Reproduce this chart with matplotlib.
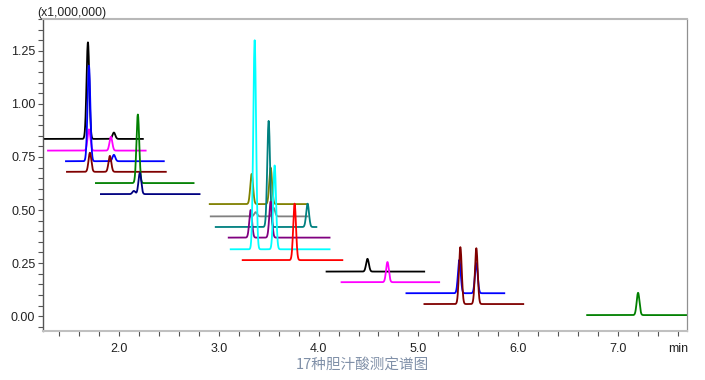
import matplotlib
matplotlib.use("Agg")
import matplotlib.pyplot as plt
from matplotlib.ticker import MultipleLocator
import numpy as np

# one entry per chromatogram trace (17 bile acids)
trace_colors = ["#000000", "#ff00ff", "#0000ff", "#800000", "#008000", "#000080",
                "#808000", "#808080", "#008080", "#800080", "#00ffff", "#ff0000",
                "#000000", "#ff00ff", "#0000ff", "#800000", "#008000"]
trace_start = [1.25, 1.29, 1.47, 1.48, 1.77, 1.82, 2.91, 2.92, 2.97, 3.10, 3.12, 3.24,
               4.08, 4.23, 4.88, 5.06, 6.69]
trace_end = [2.24, 2.27, 2.45, 2.47, 2.75, 2.81, 3.89, 3.89, 3.98, 4.11, 4.11, 4.24,
             5.06, 5.21, 5.86, 6.05, 7.80]
baseline = [0.835, 0.78, 0.73, 0.68, 0.627, 0.575, 0.528, 0.47, 0.42, 0.37, 0.315, 0.264,
            0.21, 0.16, 0.108, 0.057, 0.005]
peak_rt = [[1.69, 1.95], [1.70, 1.92], [1.70, 1.95], [1.71, 1.91], [2.19], [2.15, 2.21],
           [3.33, 3.52], [3.37, 3.55], [3.50, 3.89], [3.32, 3.52], [3.36, 3.56], [3.76],
           [4.49], [4.69], [5.41, 5.58], [5.42, 5.58], [7.20]]
peak_top = [[1.29, 0.865], [0.88, 0.845], [1.18, 0.76], [0.77, 0.755], [0.95], [0.59, 0.675],
            [0.67, 0.70], [0.49, 0.51], [0.92, 0.53], [0.50, 0.54], [1.30, 0.71], [0.53],
            [0.27], [0.255], [0.265, 0.25], [0.325, 0.32], [0.11]]

x_ticks = [2.0, 3.0, 4.0, 5.0, 6.0, 7.0, 7.6]
x_tick_labels = ["2.0", "3.0", "4.0", "5.0", "6.0", "7.0", "min"]

plt.rcParams["font.family"] = ["Liberation Sans", "DejaVu Sans"]

fig = plt.figure(figsize=(7.05, 3.8), dpi=100)
ax = fig.add_axes([43 / 705, 1 - 331 / 380, 644 / 705, 312 / 380])

sigma = 0.014
for i in range(len(baseline)):
    x = np.arange(trace_start[i], trace_end[i], 0.002)
    y = np.full_like(x, baseline[i])
    for rt, top in zip(peak_rt[i], peak_top[i]):
        h = top - baseline[i]
        y += h * np.exp(-0.5 * ((x - rt) / sigma) ** 2)
    ax.plot(x, y, color=trace_colors[i], lw=1.3)

ax.set_xlim(1.24, 7.69)
ax.set_ylim(-0.07, 1.40)
ax.set_xticks(x_ticks)
ax.set_xticklabels(x_tick_labels)
ax.xaxis.set_minor_locator(MultipleLocator(0.2))
ax.yaxis.set_major_locator(MultipleLocator(0.25))
ax.yaxis.set_minor_locator(MultipleLocator(0.05))
ax.yaxis.set_major_formatter(matplotlib.ticker.FormatStrFormatter("%.2f"))

ax.tick_params(which="both", direction="out", length=3.5, width=0.8, color="#555555",
               labelsize=9, labelcolor="#222222", pad=2)
ax.tick_params(axis="x", which="major", pad=5)

ax.spines["left"].set_color("#555555")
ax.spines["left"].set_linewidth(1.0)
ax.spines["bottom"].set_color("#c0c0c0")
ax.spines["bottom"].set_linewidth(1.5)
ax.spines["top"].set_color("#b8b8b8")
ax.spines["top"].set_linewidth(1.5)
ax.spines["right"].set_color("#909090")
ax.spines["right"].set_linewidth(0.9)

fig.text(37 / 705, 1 - 13 / 380, "(x1,000,000)", fontsize=8.8, color="#222222",
         ha="left", va="center")
fig.text(362 / 705, 1 - 366 / 380, "17种胆汁酸测定谱图", fontsize=10.5, color="#8090a8",
         ha="center", va="center", family=["Noto Sans CJK SC", "DejaVu Sans"])

fig.savefig("out.png", dpi=100)
